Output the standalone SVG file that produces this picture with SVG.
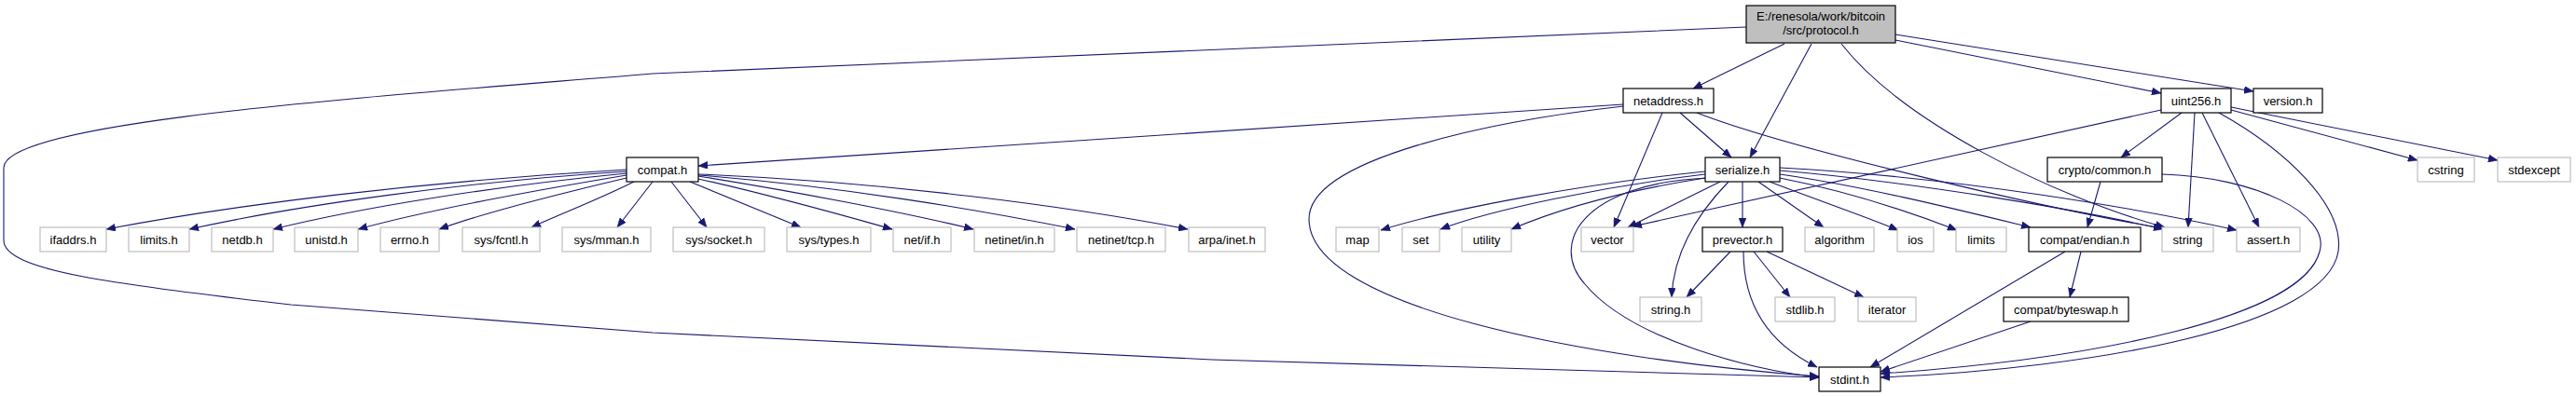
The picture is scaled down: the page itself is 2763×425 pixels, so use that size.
<svg xmlns="http://www.w3.org/2000/svg" width="2763" height="425" viewBox="0 0 2763 425">
<style>
.e path{fill:none;stroke:#191970;stroke-width:1.1;marker-end:url(#a)}
.n rect{fill:#ffffff;stroke:#000000;stroke-width:1.2}
.g rect{fill:#ffffff;stroke:#bfbfbf;stroke-width:1.2}
.r rect{fill:#bfbfbf;stroke:#000000;stroke-width:1.2}
text{font-family:"Liberation Sans",Arial,sans-serif;font-size:13px;fill:#000000;text-anchor:middle}
</style>
<defs>
<marker id="a" markerWidth="11" markerHeight="8" refX="10" refY="4" orient="auto" markerUnits="userSpaceOnUse">
<path d="M0,0 L10,4 L0,8 z" fill="#191970" stroke="#191970" stroke-width="0.5"/>
</marker>
</defs>
<rect x="0" y="0" width="2763" height="425" fill="#ffffff"/>
<g id="edges" class="e">
<!-- protocol.h -->
<path d="M1914,47 L1816,95"/>
<path d="M1943,47 L1877,169"/>
<path d="M1975,47 C2040,130 2200,210 2322,244"/>
<path d="M2033,43 L2318,100"/>
<path d="M2033,37 L2417,98"/>
<path d="M1873,29 L700,79 C400,104 4,130 4,180 L4,258 C4,290 120,305 312,327 L700,357 L1300,386 L1951,405"/>
<!-- netaddress.h -->
<path d="M1741,112 L749,178"/>
<path d="M1741,114 C1600,130 1404,170 1404,235 C1404,330 1700,385 1951,404"/>
<path d="M1783,121 L1731,244"/>
<path d="M1802,121 L1857,169"/>
<path d="M1820,121 C1920,160 2200,225 2320,245"/>
<!-- serialize.h -->
<path d="M1829,184 C1700,197 1550,225 1481,247"/>
<path d="M1829,187 C1720,200 1600,225 1545,246"/>
<path d="M1829,191 C1740,205 1670,225 1621,246"/>
<path d="M1831,191 C1700,197 1660,260 1700,305 C1750,365 1880,397 1951,405"/>
<path d="M1845,195 L1746,244"/>
<path d="M1854,195 C1820,230 1795,270 1793,319"/>
<path d="M1869,195 L1869,244"/>
<path d="M1886,195 L1956,244"/>
<path d="M1898,195 C1950,215 2000,232 2036,247"/>
<path d="M1909,191 C1980,205 2050,228 2099,247"/>
<path d="M1909,187 C2000,200 2100,225 2178,244"/>
<path d="M1909,183 C2050,195 2230,225 2320,246"/>
<path d="M1909,180 C2100,190 2300,225 2399,247"/>
<!-- uint256.h -->
<path d="M2318,118 L1751,243"/>
<path d="M2340,121 L2275,169"/>
<path d="M2354,121 L2347,244"/>
<path d="M2362,121 L2423,244"/>
<path d="M2380,121 C2450,160 2515,220 2508,270 C2495,350 2250,395 2017,405"/>
<path d="M2393,118 L2593,172"/>
<path d="M2393,115 L2679,172"/>
<!-- crypto/common.h -->
<path d="M2253,195 L2239,244"/>
<path d="M2319,187 C2420,190 2500,230 2488,270 C2470,340 2250,385 2017,401"/>
<!-- prevector.h -->
<path d="M1856,270 L1809,319"/>
<path d="M1870,270 C1870,330 1900,370 1949,394"/>
<path d="M1881,270 L1920,319"/>
<path d="M1895,270 L1999,319"/>
<!-- compat/endian.h -->
<path d="M2232,270 L2220,319"/>
<path d="M2215,270 L2006,394"/>
<!-- compat/byteswap.h -->
<path d="M2178,345 L2017,399"/>
<!-- compat.h -->
<path d="M672,182 C450,195 250,220 114,246"/>
<path d="M672,184 C500,195 320,220 203,246"/>
<path d="M672,186 C530,200 390,222 293,246"/>
<path d="M672,188 C570,205 460,225 384,246"/>
<path d="M672,191 C600,208 520,228 471,246"/>
<path d="M680,195 C640,215 600,230 570,244"/>
<path d="M700,195 L662,244"/>
<path d="M720,195 L758,244"/>
<path d="M740,195 L859,244"/>
<path d="M749,192 C830,210 900,230 957,246"/>
<path d="M749,189 C850,205 970,228 1044,246"/>
<path d="M749,188 C900,200 1050,225 1153,246"/>
<path d="M749,187 C950,195 1150,222 1274,246"/>
</g>
<g id="protocol" class="r"><rect x="1873" y="6" width="160" height="40"/><text x="1953" y="21.5">E:/renesola/work/bitcoin</text><text x="1953" y="36.5">/src/protocol.h</text></g>
<g id="netaddress" class="n"><rect x="1741" y="95" width="97" height="26"/><text x="1789.5" y="112.5">netaddress.h</text></g>
<g id="uint256" class="n"><rect x="2318" y="95" width="75" height="26"/><text x="2355.5" y="112.5">uint256.h</text></g>
<g id="version" class="n"><rect x="2417" y="95" width="74" height="26"/><text x="2454" y="112.5">version.h</text></g>
<g id="compat" class="n"><rect x="672" y="169" width="77" height="26"/><text x="710.5" y="186.5">compat.h</text></g>
<g id="serialize" class="n"><rect x="1829" y="169" width="80" height="26"/><text x="1869" y="186.5">serialize.h</text></g>
<g id="cryptocommon" class="n"><rect x="2196" y="169" width="123" height="26"/><text x="2257.5" y="186.5">crypto/common.h</text></g>
<g id="cstring" class="g"><rect x="2593" y="169" width="61" height="26"/><text x="2623.5" y="186.5">cstring</text></g>
<g id="stdexcept" class="g"><rect x="2679" y="169" width="78" height="26"/><text x="2718" y="186.5">stdexcept</text></g>
<g id="ifaddrs" class="g"><rect x="43" y="244" width="71" height="26"/><text x="78.5" y="261.5">ifaddrs.h</text></g>
<g id="limitsh" class="g"><rect x="138" y="244" width="65" height="26"/><text x="170.5" y="261.5">limits.h</text></g>
<g id="netdb" class="g"><rect x="227" y="244" width="66" height="26"/><text x="260" y="261.5">netdb.h</text></g>
<g id="unistd" class="g"><rect x="316" y="244" width="68" height="26"/><text x="350" y="261.5">unistd.h</text></g>
<g id="errno" class="g"><rect x="408" y="244" width="63" height="26"/><text x="439.5" y="261.5">errno.h</text></g>
<g id="sysfcntl" class="g"><rect x="496" y="244" width="83" height="26"/><text x="537.5" y="261.5">sys/fcntl.h</text></g>
<g id="sysmman" class="g"><rect x="603" y="244" width="95" height="26"/><text x="650.5" y="261.5">sys/mman.h</text></g>
<g id="syssocket" class="g"><rect x="722" y="244" width="98" height="26"/><text x="771" y="261.5">sys/socket.h</text></g>
<g id="systypes" class="g"><rect x="844" y="244" width="90" height="26"/><text x="889" y="261.5">sys/types.h</text></g>
<g id="netif" class="g"><rect x="958" y="244" width="62" height="26"/><text x="989" y="261.5">net/if.h</text></g>
<g id="netinetin" class="g"><rect x="1045" y="244" width="86" height="26"/><text x="1088" y="261.5">netinet/in.h</text></g>
<g id="netinettcp" class="g"><rect x="1155" y="244" width="95" height="26"/><text x="1202.5" y="261.5">netinet/tcp.h</text></g>
<g id="arpainet" class="g"><rect x="1275" y="244" width="82" height="26"/><text x="1316" y="261.5">arpa/inet.h</text></g>
<g id="map" class="g"><rect x="1433" y="244" width="46" height="26"/><text x="1456" y="261.5">map</text></g>
<g id="set" class="g"><rect x="1504" y="244" width="40" height="26"/><text x="1524" y="261.5">set</text></g>
<g id="utility" class="g"><rect x="1568" y="244" width="53" height="26"/><text x="1594.5" y="261.5">utility</text></g>
<g id="vector" class="g"><rect x="1696" y="244" width="56" height="26"/><text x="1724" y="261.5">vector</text></g>
<g id="prevector" class="n"><rect x="1826" y="244" width="86" height="26"/><text x="1869" y="261.5">prevector.h</text></g>
<g id="algorithm" class="g"><rect x="1936" y="244" width="74" height="26"/><text x="1973" y="261.5">algorithm</text></g>
<g id="ios" class="g"><rect x="2035" y="244" width="39" height="26"/><text x="2054.5" y="261.5">ios</text></g>
<g id="limits" class="g"><rect x="2098" y="244" width="54" height="26"/><text x="2125" y="261.5">limits</text></g>
<g id="compatendian" class="n"><rect x="2176" y="244" width="120" height="26"/><text x="2236" y="261.5">compat/endian.h</text></g>
<g id="string" class="g"><rect x="2319" y="244" width="55" height="26"/><text x="2346.5" y="261.5">string</text></g>
<g id="assert" class="g"><rect x="2399" y="244" width="68" height="26"/><text x="2433" y="261.5">assert.h</text></g>
<g id="stringh" class="g"><rect x="1759" y="319" width="66" height="26"/><text x="1792" y="336.5">string.h</text></g>
<g id="stdlib" class="g"><rect x="1904" y="319" width="64" height="26"/><text x="1936" y="336.5">stdlib.h</text></g>
<g id="iterator" class="g"><rect x="1993" y="319" width="62" height="26"/><text x="2024" y="336.5">iterator</text></g>
<g id="byteswap" class="n"><rect x="2149" y="319" width="134" height="26"/><text x="2216" y="336.5">compat/byteswap.h</text></g>
<g id="stdint" class="n"><rect x="1951" y="394" width="66" height="26"/><text x="1984" y="411.5">stdint.h</text></g>
</svg>
